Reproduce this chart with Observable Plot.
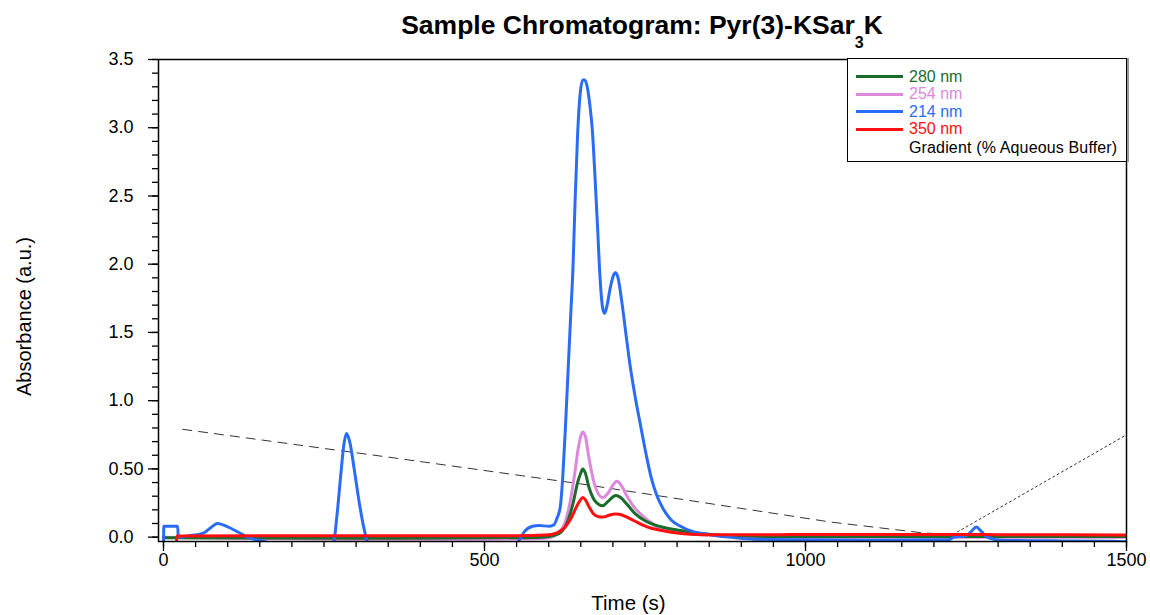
<!DOCTYPE html>
<html>
<head>
<meta charset="utf-8">
<script src="https://cdn.jsdelivr.net/npm/d3@7"></script>
<script src="https://cdn.jsdelivr.net/npm/@observablehq/plot@0.6"></script>
<style>
  body { margin: 0; background: #fff; font-family: "Liberation Sans", Arial, sans-serif; }
  #wrap { position: relative; width: 1150px; height: 615px; overflow: hidden; }
  #title { position: absolute; left: 158px; width: 968px; top: 10px; text-align: center;
           font-weight: bold; font-size: 26.5px; color: #000; white-space: nowrap; }
  #title .sub { font-size: 16px; position: relative; top: 14px; }
  #legend { position: absolute; left: 847px; top: 58px; width: 280px; height: 104px;
            border: 1.5px solid #000; background: #fff; box-shadow: 2px 0 0 #999;
            font-size: 16px; box-sizing: border-box; padding-top: 9px; }
  #legend .row { display: flex; align-items: center; height: 17.5px; }
  #legend .sw { display: inline-block; width: 47px; height: 3px; margin-left: 8px; margin-right: 6px; }
  #legend .row.grad { height: 18px; margin-top: 1px; letter-spacing: 0.15px; }
</style>
</head>
<body>
<div id="wrap">
  <div id="chart"></div>
  <div id="title">Sample Chromatogram: Pyr(3)-KSar<span class="sub">3</span>K</div>
  <div id="legend"></div>
</div>
<script>
// ---- Data ----
const seriesNames = ["280 nm", "254 nm", "214 nm", "350 nm"];
const seriesColors = ["#1b6b2b", "#dc88dc", "#2b6cf6", "#ff0f0f"];
const gradientLabel = "Gradient (% Aqueous Buffer)";

const t214 = [0,0.5,22,23,40,62,75,84,100,115,131,155,180,220,258,265,270,276,281,285,290,297,305,312,318,330,500,545,553,562,575,585,600,608,613,618,622,626,630,634,638,641,645,649,653,656,660,664,668,672,676,680,684,687,691,696,701,704,708,714,720,727,735,743,752,760,768,778,790,805,825,850,880,920,1000,1100,1222,1232,1250,1258,1266,1274,1283,1304,1400,1480,1500];
const v214 = [-0.1,0.08,0.08,0.0,0.01,0.03,0.075,0.10,0.075,0.04,0.0,-0.03,-0.055,-0.08,-0.08,-0.04,0.15,0.45,0.68,0.76,0.7,0.5,0.25,0.07,-0.04,-0.09,-0.09,-0.06,-0.03,0.04,0.08,0.085,0.08,0.09,0.14,0.22,0.45,0.8,1.2,1.6,2.0,2.45,2.95,3.25,3.35,3.35,3.3,3.17,2.98,2.65,2.28,1.9,1.68,1.64,1.7,1.83,1.92,1.94,1.9,1.72,1.5,1.25,1.02,0.82,0.6,0.43,0.31,0.21,0.13,0.08,0.04,0.02,0.0,-0.015,-0.02,-0.022,-0.02,0.0,0.01,0.04,0.075,0.04,0.0,-0.022,-0.028,-0.03,-0.035];

const t254 = [0,50,150,300,500,590,605,615,625,633,640,646,650,653,657,662,668,675,684,692,700,706,713,722,733,743,755,769,790,820,860,900,1000,1200,1500];
const v254 = [0.0,-0.005,-0.01,-0.015,-0.015,-0.01,0.0,0.03,0.1,0.25,0.45,0.65,0.74,0.77,0.74,0.6,0.45,0.34,0.29,0.32,0.38,0.41,0.38,0.3,0.22,0.17,0.12,0.075,0.045,0.025,0.012,0.005,0.0,0.0,0.0];

const t280 = [0,300,500,590,610,620,630,638,645,650,653,657,663,670,678,684,692,700,705,712,722,735,750,765,785,810,840,880,950,1500];
const v280 = [-0.005,-0.008,-0.005,0.0,0.015,0.04,0.12,0.25,0.4,0.47,0.50,0.47,0.36,0.28,0.24,0.23,0.26,0.295,0.305,0.29,0.24,0.17,0.12,0.09,0.065,0.045,0.025,0.012,0.005,0.005];

const t350 = [20,21,200,550,595,612,625,635,643,649,653,657,663,670,678,684,694,703,710,720,733,746,760,780,800,821,860,950,1000,1200,1300,1500];
const v350 = [-0.1,0.008,0.01,0.01,0.015,0.03,0.07,0.14,0.22,0.27,0.29,0.275,0.22,0.17,0.15,0.147,0.16,0.17,0.168,0.15,0.12,0.09,0.065,0.045,0.03,0.022,0.018,0.017,0.02,0.02,0.018,0.016];

const tGrad = [30,360,650,1040,1185,1230,1500];
const vGrad = [0.79,0.58,0.39,0.11,0.03,0.02,0.75];

const xTickValues = [0, 500, 1000, 1500];
const xTickLabels = ["0", "500", "1000", "1500"];
const yTickValues = [0, 0.5, 1, 1.5, 2, 2.5, 3, 3.5];
const yTickLabels = ["0.0", "0.50", "1.0", "1.5", "2.0", "2.5", "3.0", "3.5"];
const xLabel = "Time (s)";
const yLabel = "Absorbance (a.u.)";

// ---- Build tables ----
const rows = (t, v, s) => t.map((d, i) => ({time: d, abs: v[i], series: s}));
const r280 = rows(t280, v280, seriesNames[0]);
const r254 = rows(t254, v254, seriesNames[1]);
const r214 = rows(t214, v214, seriesNames[2]);
const r350 = rows(t350, v350, seriesNames[3]);
const rGrad = rows(tGrad, vGrad, gradientLabel);
const xMinor = d3.range(0, 1501, 50);
const yMinor = d3.range(0, 36).map(i => i / 10);
const yLab = d => yTickLabels[yTickValues.indexOf(d)];
const xLab = d => xTickLabels[xTickValues.indexOf(d)];

const traceOpts = (color) => ({x: "time", y: "abs", stroke: color, strokeWidth: 3, curve: "monotone-x", clip: true});

const chart = Plot.plot({
  width: 1150, height: 615,
  marginTop: 59, marginBottom: 74, marginLeft: 158, marginRight: 24,
  style: {fontFamily: "Liberation Sans, Arial, sans-serif", fontSize: "18px", color: "#000", background: "#fff", overflow: "visible"},
  x: {domain: [-7.8, 1500], label: null},
  y: {domain: [-0.032, 3.5], label: null},
  marks: [
    Plot.line(rGrad.slice(0, 6), {x: "time", y: "abs", stroke: "#333", strokeWidth: 1, strokeDasharray: "9,7", clip: true}),
    Plot.line(rGrad.slice(5), {x: "time", y: "abs", stroke: "#333", strokeWidth: 1, strokeDasharray: "2,3", clip: true}),
    Plot.line(r254, traceOpts(seriesColors[1])),
    Plot.line(r280, traceOpts(seriesColors[0])),
    Plot.line(r214, traceOpts(seriesColors[2])),
    Plot.line(r350, traceOpts(seriesColors[3])),
    Plot.frame({stroke: "#000", strokeWidth: 1.5}),
    Plot.axisX({ticks: xMinor, tickSize: 6, tickFormat: () => "", strokeWidth: 1.3, label: null}),
    Plot.axisX({ticks: xTickValues, tickSize: 10, tickPadding: 2, tickFormat: xLab, strokeWidth: 1.3, fontSize: 18, label: null}),
    Plot.axisY({ticks: yMinor, tickSize: 6, tickFormat: () => "", strokeWidth: 1.3, label: null}),
    Plot.axisY({ticks: yTickValues.filter(d => d !== 0.5), tickSize: 10, tickPadding: 15, tickFormat: yLab, strokeWidth: 1.3, fontSize: 18, label: null}),
    Plot.axisY({ticks: [0.5], tickSize: 10, tickPadding: 5, tickFormat: yLab, strokeWidth: 1.3, fontSize: 18, label: null}),
    Plot.text([xLabel], {text: d => d, frameAnchor: "bottom", dy: 68, dx: -14, fontSize: 20.5}),
    Plot.text([yLabel], {text: d => d, frameAnchor: "left", textAnchor: "middle", dx: -134, dy: 16, rotate: -90, fontSize: 20})
  ]
});
document.getElementById("chart").appendChild(chart);

// ---- Legend ----
const legend = document.getElementById("legend");
seriesNames.forEach((name, i) => {
  const row = document.createElement("div");
  row.className = "row";
  const sw = document.createElement("span");
  sw.className = "sw";
  sw.style.background = seriesColors[i];
  const tx = document.createElement("span");
  tx.textContent = name;
  tx.style.color = seriesColors[i];
  row.appendChild(sw); row.appendChild(tx);
  legend.appendChild(row);
});
const grow = document.createElement("div");
grow.className = "row grad";
const gsw = document.createElement("span");
gsw.className = "sw";
const gtx = document.createElement("span");
gtx.textContent = gradientLabel;
grow.appendChild(gsw); grow.appendChild(gtx);
legend.appendChild(grow);
</script>
</body>
</html>
